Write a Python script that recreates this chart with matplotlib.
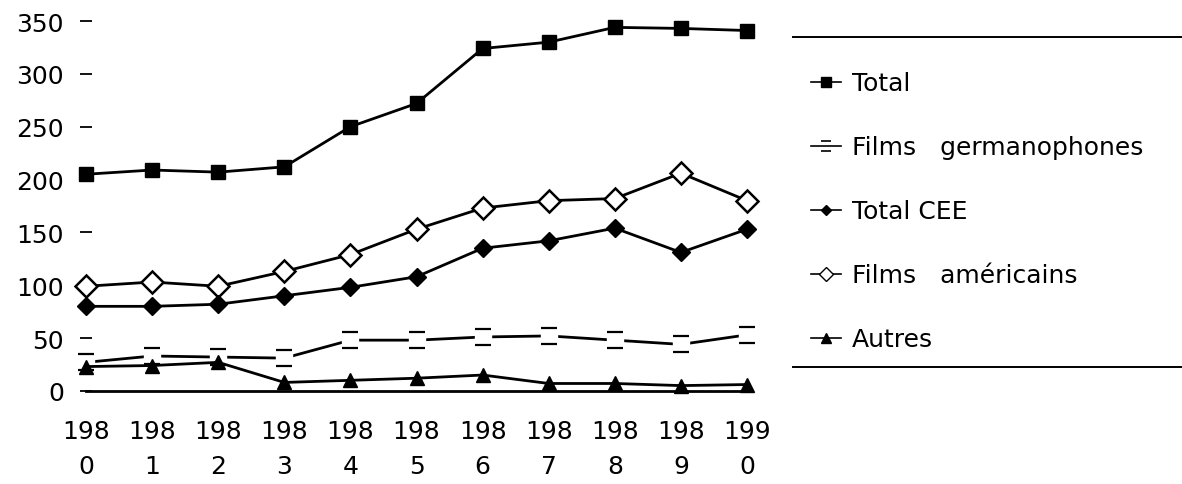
import matplotlib
matplotlib.use("Agg")
import matplotlib.pyplot as plt
from matplotlib.path import Path
from matplotlib.lines import Line2D

# values
years = [1980, 1981, 1982, 1983, 1984, 1985, 1986, 1987, 1988, 1989, 1990]
year_labels = ["198\n0", "198\n1", "198\n2", "198\n3", "198\n4", "198\n5",
               "198\n6", "198\n7", "198\n8", "198\n9", "199\n0"]
total = [205, 209, 207, 212, 250, 272, 324, 330, 344, 343, 341]
germanophones = [27, 33, 32, 31, 48, 48, 51, 52, 48, 44, 53]
total_cee = [80, 80, 82, 90, 98, 108, 135, 142, 154, 131, 153]
americains = [99, 103, 99, 113, 129, 153, 173, 180, 182, 206, 180]
autres = [23, 24, 27, 8, 10, 12, 15, 7, 7, 5, 6]
y_ticks = [0, 50, 100, 150, 200, 250, 300, 350]

plt.rcParams['font.family'] = ['DejaVu Sans']

# open box marker: only top and bottom edges survive in the scan
dash_box = Path([(-1, 1), (1, 1), (-1, -1), (1, -1)],
                [Path.MOVETO, Path.LINETO, Path.MOVETO, Path.LINETO])

fig = plt.figure(figsize=(11.82, 4.85), dpi=100)
ax = fig.add_axes([0.0728, 0.192, 0.5592, 0.7626])

lw = 2
common = dict(color="black", linewidth=lw, clip_on=False)

ax.plot(years, total, marker="s", markersize=10, **common)
ax.plot(years, americains, marker="D", markersize=11, markerfacecolor="white",
        markeredgewidth=1.8, **common)
ax.plot(years, total_cee, marker="D", markersize=9, **common)
ax.plot(years, germanophones, **common)
ax.plot(years, germanophones, linestyle="none", marker="s", markersize=11,
        markerfacecolor="white", markeredgecolor="white", clip_on=False)
ax.plot(years, germanophones, linestyle="none", marker=dash_box, markersize=12,
        markerfacecolor="none", markeredgecolor="black", markeredgewidth=1.6,
        clip_on=False)
ax.plot(years, autres, marker="^", markersize=10, **common)

ax.set_xlim(1980, 1990)
ax.set_ylim(0, 350)
ax.set_xticks(years)
ax.set_xticklabels(year_labels, fontsize=18, linespacing=1.62)
ax.set_yticks(y_ticks)
ax.set_yticklabels([str(v) for v in y_ticks], fontsize=18)

for side in ["top", "right", "left"]:
    ax.spines[side].set_visible(False)
ax.spines["bottom"].set_linewidth(2)
ax.tick_params(axis="x", length=0, pad=20)
ax.tick_params(axis="y", direction="inout", length=8, width=1.3, pad=12)

# legend with the small handles of the original
handles = [
    Line2D([], [], color="black", lw=1.2, marker="s", markersize=7),
    Line2D([], [], color="black", lw=1.2, marker=dash_box, markersize=7,
           markerfacecolor="none", markeredgewidth=1.2),
    Line2D([], [], color="black", lw=1.2, marker="D", markersize=5.5),
    Line2D([], [], color="black", lw=1.2, marker="D", markersize=7,
           markerfacecolor="white"),
    Line2D([], [], color="black", lw=1.2, marker="^", markersize=7),
]
labels = ["Total", "Films   germanophones", "Total CEE",
          "Films   américains", "Autres"]
fig.legend(handles, labels, loc="upper left", bbox_to_anchor=(0.686, 0.851),
           frameon=False, fontsize=18, handlelength=1.2, handletextpad=0.45,
           labelspacing=1.6, borderpad=0, borderaxespad=0)

fig.add_artist(Line2D([0.671, 1.0], [0.922, 0.922], color="black", lw=1.4))
fig.add_artist(Line2D([0.671, 1.0], [0.241, 0.241], color="black", lw=1.4))

fig.savefig("out.png", dpi=100)
